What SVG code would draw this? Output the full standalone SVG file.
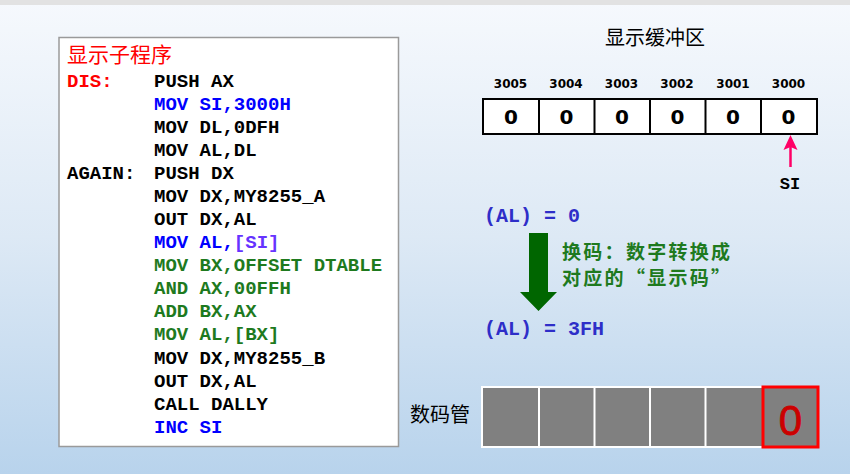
<svg xmlns="http://www.w3.org/2000/svg" width="850" height="474" viewBox="0 0 850 474">
<defs>
<linearGradient id="bg" x1="0" y1="0" x2="0" y2="1">
<stop offset="0" stop-color="#f6f9fd"/>
<stop offset="0.5" stop-color="#dde9f5"/>
<stop offset="1" stop-color="#b8d3ec"/>
</linearGradient>
<style>
.code{font-family:"Liberation Mono","Courier New",monospace;font-weight:bold;font-size:19px}
.k{fill:#000000}.r{fill:#ff0000}.b{fill:#0000ff}.g{fill:#1e7a1e}.p{fill:#6633ff}
.cjk{font-family:"Noto Sans CJK SC","Noto Sans CJK JP",sans-serif}
.addr{font-family:"DejaVu Sans",sans-serif;font-weight:bold;font-size:12px;fill:#000}
.cell0{font-family:"DejaVu Sans",sans-serif;font-weight:bold;font-size:20px;fill:#000}
.al{font-family:"Liberation Mono","Courier New",monospace;font-weight:bold;font-size:20px;fill:#2e2ec8}
.note{font-size:19px;font-weight:bold;fill:#1e7a1e;letter-spacing:2.3px}
</style>
</defs>
<rect x="0" y="0" width="850" height="474" fill="url(#bg)"/>
<rect x="0" y="0" width="850" height="5" fill="#e2e2e2"/>

<g id="code-box">
<rect x="59" y="37.5" width="339.5" height="409" fill="#ffffff" stroke="#9a9a9a" stroke-width="1.5"/>
<text class="cjk" x="67" y="62" font-size="21" fill="#ff0000">显示子程序</text>
<g class="code">
<text x="67" y="86.5" class="r">DIS:</text>
<text x="154" y="86.5" class="k">PUSH AX</text>
<text x="154" y="109.6" class="b">MOV SI,3000H</text>
<text x="154" y="132.7" class="k">MOV DL,0DFH</text>
<text x="154" y="155.7" class="k">MOV AL,DL</text>
<text x="67" y="178.8" class="k">AGAIN:</text>
<text x="154" y="178.8" class="k">PUSH DX</text>
<text x="154" y="201.9" class="k">MOV DX,MY8255_A</text>
<text x="154" y="225" class="k">OUT DX,AL</text>
<text x="154" y="248.1" class="b">MOV AL,<tspan class="p">[SI]</tspan></text>
<text x="154" y="271.1" class="g">MOV BX,OFFSET DTABLE</text>
<text x="154" y="294.2" class="g">AND AX,00FFH</text>
<text x="154" y="317.3" class="g">ADD BX,AX</text>
<text x="154" y="340.4" class="g">MOV AL,[BX]</text>
<text x="154" y="363.5" class="k">MOV DX,MY8255_B</text>
<text x="154" y="386.6" class="k">OUT DX,AL</text>
<text x="154" y="409.6" class="k">CALL DALLY</text>
<text x="154" y="432.7" class="b">INC SI</text>
</g>
</g>

<g id="buffer">
<text class="cjk" x="655" y="45" font-size="20" fill="#000" text-anchor="middle">显示缓冲区</text>
<g text-anchor="middle">
<text class="addr" x="510.5" y="87.5">3005</text>
<text class="addr" x="566" y="87.5">3004</text>
<text class="addr" x="621.5" y="87.5">3003</text>
<text class="addr" x="677" y="87.5">3002</text>
<text class="addr" x="733" y="87.5">3001</text>
<text class="addr" x="788.5" y="87.5">3000</text>
</g>
<rect x="483" y="99" width="334" height="35" fill="#ffffff" stroke="#000" stroke-width="2"/>
<g stroke="#000" stroke-width="2">
<line x1="539" y1="99" x2="539" y2="134"/>
<line x1="594.5" y1="99" x2="594.5" y2="134"/>
<line x1="650" y1="99" x2="650" y2="134"/>
<line x1="705.5" y1="99" x2="705.5" y2="134"/>
<line x1="761" y1="99" x2="761" y2="134"/>
</g>
<g text-anchor="middle">
<text class="cell0" x="511" y="124">0</text>
<text class="cell0" x="566.5" y="124">0</text>
<text class="cell0" x="622" y="124">0</text>
<text class="cell0" x="677.5" y="124">0</text>
<text class="cell0" x="733" y="124">0</text>
<text class="cell0" x="788.5" y="124">0</text>
</g>
</g>

<g id="connectors">
<line x1="790.5" y1="167" x2="790.5" y2="146" stroke="#ff0066" stroke-width="2.5"/>
<path d="M790.5,135 L797.5,150 L790.5,147 L783.5,150 Z" fill="#ff0066"/>
<path d="M529,233 L548,233 L548,292 L557,292 L538.5,311 L520,292 L529,292 Z" fill="#006600"/>
</g>

<g id="si-label">
<text x="790" y="189" font-family="Liberation Mono,monospace" font-weight="bold" font-size="17" fill="#000" text-anchor="middle">SI</text>
</g>

<g id="al-before">
<text class="al" x="484" y="222">(AL) = 0</text>
</g>

<g id="conversion-note">
<text class="cjk note" x="562" y="259">换码：数字转换成</text>
<text class="cjk note" x="562" y="285">对应的“显示码”</text>
</g>

<g id="al-after">
<text class="al" x="484" y="335">(AL) = 3FH</text>
</g>

<g id="display">
<text class="cjk" x="410" y="422" font-size="20" fill="#000">数码管</text>
<rect x="482" y="387" width="336" height="60" fill="#808080" stroke="#ffffff" stroke-width="2"/>
<g stroke="#ffffff" stroke-width="2">
<line x1="539" y1="387" x2="539" y2="447"/>
<line x1="594.5" y1="387" x2="594.5" y2="447"/>
<line x1="650" y1="387" x2="650" y2="447"/>
<line x1="705.5" y1="387" x2="705.5" y2="447"/>
</g>
<rect x="763" y="387" width="55" height="60" fill="#808080" stroke="#ff0000" stroke-width="3"/>
<text x="790.5" y="435" font-family="Liberation Sans,Arial,sans-serif" font-size="42" fill="#cc0000" stroke="#cc0000" stroke-width="0.8" text-anchor="middle">0</text>
</g>
</svg>
